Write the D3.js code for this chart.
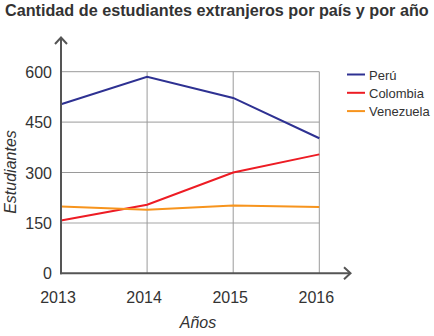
<!DOCTYPE html>
<html>
<head>
<meta charset="utf-8">
<script src="https://cdn.jsdelivr.net/npm/d3@7"></script>
<style>
  body { margin: 0; background: #fff; }
  text { font-family: "Liberation Sans", Arial, sans-serif; }
</style>
</head>
<body>
<div id="chart"></div>
<script>
var years = [2013, 2014, 2015, 2016];
var yTicks = [0, 150, 300, 450, 600];
var peru = [503, 585, 522, 402];
var colombia = [157, 204, 300, 354];
var venezuela = [199, 189, 202, 197];

var series = [
    {name: "Perú", values: peru, color: "#2e3192"},
    {name: "Colombia", values: colombia, color: "#ed1c24"},
    {name: "Venezuela", values: venezuela, color: "#f7941d"}
];

var w = 434;
var h = 336;

var svg = d3.select("#chart")
    .append("svg")
    .attr("width", w)
    .attr("height", h);

var x = d3.scaleLinear()
    .domain([2013, 2016])
    .range([61, 319.3]);

var y = d3.scaleLinear()
    .domain([0, 600])
    .range([273.3, 71.7]);

// title
svg.append("text")
    .attr("x", 5)
    .attr("y", 16)
    .attr("font-size", 16.2)
    .attr("font-weight", "bold")
    .attr("fill", "#333")
    .text("Cantidad de estudiantes extranjeros por país y por año");

// grid
svg.selectAll("line.hgrid")
    .data(yTicks.filter(function(d) { return d > 0; }))
    .enter()
    .append("line")
    .attr("class", "hgrid")
    .attr("x1", x(2013))
    .attr("x2", x(2016))
    .attr("y1", function(d) { return y(d); })
    .attr("y2", function(d) { return y(d); })
    .attr("stroke", function(d) { return d == 150 ? "#d2d2d2" : "#9a9a9a"; })
    .attr("stroke-width", function(d) { return d == 150 ? 2 : 1; });

svg.selectAll("line.vgrid")
    .data(years.slice(1))
    .enter()
    .append("line")
    .attr("class", "vgrid")
    .attr("x1", function(d) { return x(d); })
    .attr("x2", function(d) { return x(d); })
    .attr("y1", y(600))
    .attr("y2", y(0))
    .attr("stroke", "#9a9a9a")
    .attr("stroke-width", 1);

// series lines
var line = d3.line()
    .x(function(d, i) { return x(years[i]); })
    .y(function(d) { return y(d); });

svg.selectAll("path.serie")
    .data(series)
    .enter()
    .append("path")
    .attr("class", "serie")
    .attr("fill", "none")
    .attr("stroke", function(d) { return d.color; })
    .attr("stroke-width", 2)
    .attr("d", function(d) { return line(d.values); });

// axes with arrows
var axisColor = "#555";
var x0 = x(2013), y0 = y(0);
svg.append("line")
    .attr("x1", x0).attr("y1", y0 + 1)
    .attr("x2", x0).attr("y2", 38)
    .attr("stroke", axisColor).attr("stroke-width", 2);
svg.append("path")
    .attr("d", "M" + (x0 - 6) + "," + 44 + "L" + x0 + "," + 37.5 + "L" + (x0 + 6) + "," + 44)
    .attr("fill", "none").attr("stroke", axisColor).attr("stroke-width", 2);
svg.append("line")
    .attr("x1", x0 - 1).attr("y1", y0)
    .attr("x2", 350).attr("y2", y0)
    .attr("stroke", axisColor).attr("stroke-width", 2);
svg.append("path")
    .attr("d", "M" + 344 + "," + (y0 - 6) + "L" + 350.5 + "," + y0 + "L" + 344 + "," + (y0 + 6))
    .attr("fill", "none").attr("stroke", axisColor).attr("stroke-width", 2);

// tick labels
svg.selectAll("text.ytick")
    .data(yTicks)
    .enter()
    .append("text")
    .attr("class", "ytick")
    .attr("x", 52)
    .attr("y", function(d) { return y(d) + 6; })
    .attr("text-anchor", "end")
    .attr("font-size", 16)
    .attr("fill", "#333")
    .text(function(d) { return d; });

svg.selectAll("text.xtick")
    .data(years)
    .enter()
    .append("text")
    .attr("class", "xtick")
    .attr("x", function(d) { return x(d) - 3; })
    .attr("y", 303)
    .attr("text-anchor", "middle")
    .attr("font-size", 16)
    .attr("fill", "#333")
    .text(function(d) { return d; });

// axis titles
svg.append("text")
    .attr("x", 198)
    .attr("y", 328)
    .attr("text-anchor", "middle")
    .attr("font-size", 16)
    .attr("font-style", "italic")
    .attr("fill", "#333")
    .text("Años");

svg.append("text")
    .attr("transform", "translate(16,172) rotate(-90)")
    .attr("text-anchor", "middle")
    .attr("font-size", 16)
    .attr("font-style", "italic")
    .attr("fill", "#333")
    .text("Estudiantes");

// legend
var legend = svg.selectAll("g.legend")
    .data(series)
    .enter()
    .append("g")
    .attr("class", "legend")
    .attr("transform", function(d, i) { return "translate(347," + (74.5 + i * 18.3) + ")"; });

legend.append("line")
    .attr("x1", 0).attr("x2", 18)
    .attr("stroke", function(d) { return d.color; })
    .attr("stroke-width", 2);

legend.append("text")
    .attr("x", 22)
    .attr("y", 5)
    .attr("font-size", 13)
    .attr("fill", "#333")
    .text(function(d) { return d.name; });
</script>
</body>
</html>
